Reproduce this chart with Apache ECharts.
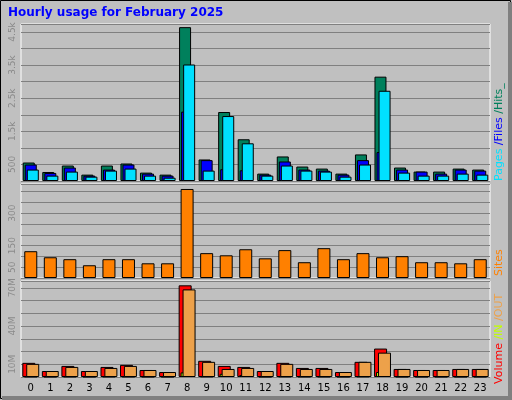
<!DOCTYPE html>
<html><head><meta charset="utf-8">
<script src="https://cdn.jsdelivr.net/npm/echarts@6/dist/echarts.min.js"></script>
<style>html,body{margin:0;padding:0;background:#c0c0c0}#c{width:512px;height:400px}</style>
</head><body><div id="c"></div>
<script>
const hours = ['0','1','2','3','4','5','6','7','8','9','10','11','12','13','14','15','16','17','18','19','20','21','22','23'];
const hits  = [558,272,467,192,467,528,253,192,4645,650,2083,1260,223,741,436,375,223,802,3150,406,284,284,375,345];
const files = [497,243,406,162,345,497,223,162,2094,630,355,324,192,589,345,314,192,630,874,345,284,223,345,314];
const pages = [345,162,284,131,314,375,162,100,3517,314,1961,1138,162,467,314,284,131,497,2724,253,162,162,223,192];
const sites = [124,96,87,59,87,87,68,68,412,115,105,133,91,129,73,138,87,115,96,101,73,73,68,87];
const volume = [11.1,4.7,8.7,4.7,7.9,9.5,5.5,3.9,71.9,12.7,8.7,7.9,4.7,11.1,7.1,7.1,3.9,11.9,22.3,6.3,5.5,5.5,6.3,6.3];
const volIn  = [0.3,0.2,0.3,0.2,0.3,0.3,0.2,0.2,3.6,0.4,2.5,1.5,0.2,0.4,0.3,0.3,0.2,0.4,3.9,0.2,0.2,0.2,0.2,0.2];
const volOut = [10.3,4.7,7.9,4.7,7.1,8.7,5.5,3.9,68.7,11.9,6.3,7.1,4.7,10.3,6.3,6.3,3.9,11.9,19.1,6.3,5.5,5.5,6.3,6.3];

const ch = echarts.init(document.getElementById('c'));
const L=21, R=22;
const grids=[{left:L,right:R,top:24,height:157},{left:L,right:R,top:184,height:94},{left:L,right:R,top:281,height:96}];
const gl={show:true,lineStyle:{color:'#808080',width:1}};
function xa(i,show){return {type:'category',gridIndex:i,data:hours,axisTick:{show:false},
  axisLine:{show:false},axisLabel:{show:show,color:'#000',fontSize:10,fontFamily:'DejaVu Sans',margin:6,interval:0}};}
function ya(i,max,iv,fmt){return {type:'value',gridIndex:i,min:0,max:max,interval:iv,splitLine:gl,
  axisLine:{show:false},axisTick:{show:false},
  axisLabel:{color:'#8a8a8a',fontSize:9,fontFamily:'DejaVu Sans',rotate:90,margin:4,formatter:fmt,showMaxLabel:false}};}
const bs={borderColor:'#000',borderWidth:1};
function bar(name,data,color,xi,w,gap){return {name,type:'bar',data,xAxisIndex:xi,yAxisIndex:xi,barWidth:w,barGap:gap,
  itemStyle:Object.assign({color},bs),animation:false,silent:true};}
ch.setOption({
  backgroundColor:'#c0c0c0',
  grid:grids.map(g=>Object.assign({show:true,backgroundColor:'#c0c0c0',borderColor:'#fff',borderWidth:1},g)),
  xAxis:[xa(0,false),xa(1,false),xa(2,true)],
  yAxis:[
    ya(0,4740,500,v=>v%1000===500?(v<1000?'500':(v/1000)+'k'):''),
    ya(1,435,50,v=>(v===50||v===150||v===300)?String(v):''),
    ya(2,75.3,10,v=>(v===10||v===40||v===70)?v+'M':'')
  ],
  series:[
    bar('Hits',hits,'#00805c',0,12,'-83%'),
    bar('Files',files,'#0000ff',0,12,'-83%'),
    bar('Pages',pages,'#00e0ff',0,12,'-83%'),
    bar('Sites',sites,'#ff8000',1,13,'0%'),
    bar('Volume',volume,'#ff0000',2,13,'-85%'),
    bar('IN',volIn,'#c0ff00',2,13,'-85%'),
    bar('OUT',volOut,'#eda14a',2,13,'-85%')
  ],
  graphic:[
    {type:'rect',shape:{x:0.5,y:0.5,width:510,height:398},style:{fill:'none',stroke:'#000',lineWidth:1},z:-1},
    {type:'rect',shape:{x:2,y:396,width:510,height:4},style:{fill:'#808080'}},
    {type:'rect',shape:{x:508,y:2,width:4,height:398},style:{fill:'#808080'}},
    {type:'text',left:8,top:7,style:{text:'Hourly usage for February 2025',fill:'#0000ff',font:'bold 12px "DejaVu Sans"'}},
    {type:'text',x:499,y:181,rotation:Math.PI/2,style:{text:'{a|Pages }{b|/Files }{c|/Hits_}',
      rich:{a:{fill:'#00e0ff',font:'11px "DejaVu Sans"'},b:{fill:'#0000ff',font:'11px "DejaVu Sans"'},c:{fill:'#00805c',font:'11px "DejaVu Sans"'}},
      textAlign:'left',textVerticalAlign:'middle'}},
    {type:'text',x:499,y:276,rotation:Math.PI/2,style:{text:'Sites',fill:'#ff8000',font:'11px "DejaVu Sans"',textAlign:'left',textVerticalAlign:'middle'}},
    {type:'text',x:499,y:384,rotation:Math.PI/2,style:{text:'{a|Volume }{b|/IN }{c|/OUT}',
      rich:{a:{fill:'#ff0000',font:'11px "DejaVu Sans"'},b:{fill:'#c0ff00',font:'11px "DejaVu Sans"'},c:{fill:'#eda14a',font:'11px "DejaVu Sans"'}},
      textAlign:'left',textVerticalAlign:'middle'}}
  ]
});
</script></body></html>
